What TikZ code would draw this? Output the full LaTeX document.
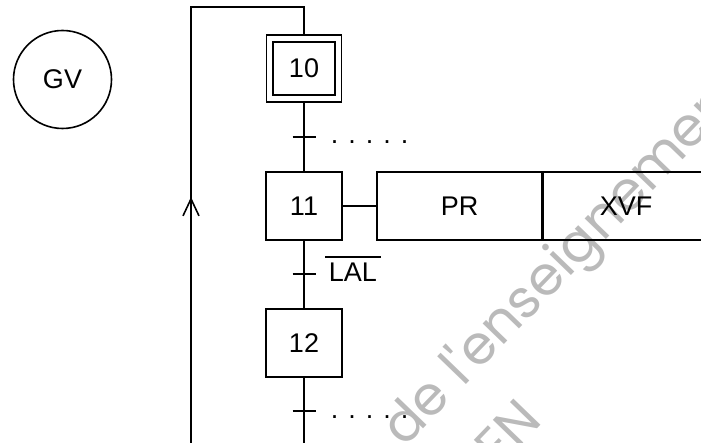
\documentclass[tikz,border=0pt]{standalone}
\usepackage{fontspec}
\setmainfont{Liberation Sans}
\newfontfamily\wmfont{Poppins}
\usetikzlibrary{arrows.meta,calc}
\begin{document}
\begin{tikzpicture}[x=1pt,y=-1pt,line width=1.6pt,
  lbl/.style={font=\fontsize{27}{32}\selectfont, inner sep=0pt},
  stepbox/.style={lbl, draw, rectangle, minimum width=76pt, minimum height=68pt},
  initbox/.style={lbl, draw, double, double distance=5.2pt, rectangle,
    minimum width=68.5pt, minimum height=60pt, outer sep=4.2pt},
  actbox/.style={lbl, draw, rectangle, minimum height=68pt},
  tick/.style={line width=1.6pt},
  wm/.style={font=\wmfont\fontsize{54}{64}\selectfont, text=black!27, inner sep=0pt, rotate=46}]
\useasboundingbox (0,0) rectangle (701,443);
\clip (0,0) rectangle (701,443);

% watermark
\node[wm, anchor=base west] (wm1) at (404,449) {de l'enseignement};
\node[wm, anchor=base west] (wm2) at (498,470) {EN};

% macro-step circle
\node[lbl, draw, circle, minimum size=98pt] (gv) at (62.5,79.5) {GV};

% steps
\node[initbox] (s10) at (304,68.5) {10};
\node[stepbox] (s11) at (304,206) {11};
\node[stepbox] (s12) at (304,343) {12};

% actions
\node[actbox, minimum width=165pt] (pr) at (459.5,206) {PR};
\node[actbox, minimum width=165pt, anchor=west] (xvf) at (pr.east) {XVF};

% transitions
\coordinate (t1) at (304,137);
\coordinate (t2) at (304,274);
\coordinate (t3) at (304,411);
\coordinate (bot) at (304,450);
\coordinate (lb) at (191,450);
\coordinate (lt) at (191,7);
\coordinate (rt) at (304,7);
\coordinate (arr) at (191,197);

\draw (s10.south) -- (s11.north);
\draw (s11.south) -- (s12.north);
\draw (s12.south) -- (bot);
\draw (s11.east) -- (pr.west);
\foreach \t in {t1,t2,t3}{\draw[tick] (\t) +(-11.5,0) -- +(11.5,0);}

% receptivities
\node[lbl, anchor=base west] (r1) at (330,144) {. . . . .};
\node[lbl, anchor=base west] (r2) at (328,282) {LAL};
\draw[line width=1.3pt] ($(r2.base west)+(-3,-25)$) -- ($(r2.base east)+(3,-25)$);
\node[lbl, anchor=base west] (r3) at (330,418) {. . . . .};

% loop back
\draw (lb) -- (lt) -- (rt) -- (s10.north);
\draw[-{Straight Barb[length=17pt,width=16pt]}] (lb) -- (arr);
\end{tikzpicture}
\end{document}
